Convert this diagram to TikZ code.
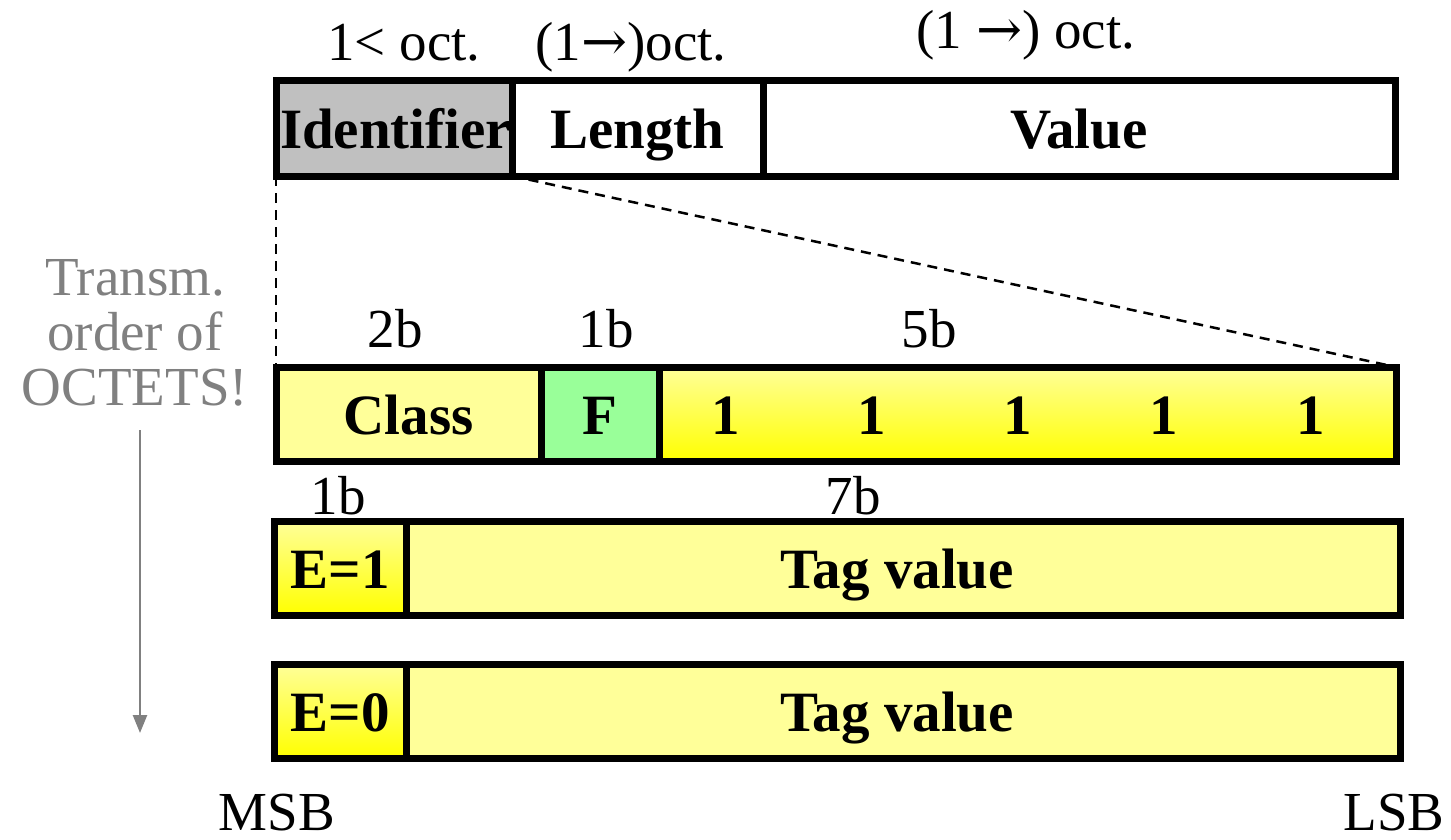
\documentclass[tikz,border=0pt]{standalone}
\usepackage{fontspec}
\setmainfont{Liberation Serif}
\newfontfamily\arrfont{DejaVu Serif}
\usetikzlibrary{arrows.meta}
\definecolor{lightyel}{HTML}{FFFF99}
\definecolor{lightgrn}{HTML}{99FF99}
\definecolor{idgray}{HTML}{C0C0C0}
\definecolor{txtgray}{HTML}{808080}
\newcommand{\rarr}{{\arrfont →}}
\begin{document}
\begin{tikzpicture}[x=1pt,y=-1pt,
  box/.style={draw=black, line width=7pt, inner sep=0pt, outer sep=0pt,
    font=\bfseries\fontsize{57}{57}\selectfont, text height=40pt, text depth=0pt},
  boxtext/.style={inner sep=0pt, outer sep=0pt,
    font=\bfseries\fontsize{57}{57}\selectfont, text height=40pt, text depth=0pt},
  lab/.style={inner sep=0pt, outer sep=0pt, font=\fontsize{55}{55}\selectfont},
  grad/.style={top color=lightyel, bottom color=yellow},
  dashline/.style={line width=2.5pt, dash pattern=on 10pt off 7pt},
  orderarrow/.style={draw=txtgray, line width=2.5pt, -{Triangle[length=18pt,width=14pt]}, fill=txtgray}
]
\useasboundingbox (0,0) rectangle (1451,839);

% row 1: TLV
\node[box, fill=idgray, minimum width=236pt, minimum height=96pt] (id) at (394,128) {};
\node[boxtext, anchor=west] (idtxt) at (280,128) {Identifier};
\node[box, fill=white, minimum width=251pt, minimum height=96pt] (len) at (637.5,128) {Length};
\node[box, fill=white, minimum width=632pt, minimum height=96pt] (val) at (1079,128) {Value};

\node[lab, anchor=base] (o1) at (404,60) {1< oct.};
\node[lab, anchor=base] (o2) at (631,60) {(1\rarr)oct.};
\node[lab, anchor=base] (o3) at (1026,48) {(1 \rarr) oct.};

% row 2: identifier octet
\node[box, fill=lightyel, minimum width=265pt, minimum height=94pt] (cls) at (408.5,414) {Class};
\node[box, fill=lightgrn, minimum width=118pt, minimum height=94pt] (fb) at (600,414) {F};
\node[box, grad, minimum width=737pt, minimum height=94pt] (bits) at (1027.5,414) {};
\node[boxtext] (b1) at (726,414) {1};
\node[boxtext] (b2) at (872,414) {1};
\node[boxtext] (b3) at (1018,414) {1};
\node[boxtext] (b4) at (1164,414) {1};
\node[boxtext] (b5) at (1311,414) {1};

\node[lab, anchor=base] (l2b) at (395,347) {2b};
\node[lab, anchor=base] (l1b) at (606,347) {1b};
\node[lab, anchor=base] (l5b) at (929,347) {5b};

% rows 3 and 4: subsequent octets
\node[box, grad, minimum width=132pt, minimum height=94pt] (e1) at (340,568) {E=1};
\node[box, fill=lightyel, minimum width=994pt, minimum height=94pt] (tag1) at (903,568) {};
\node[boxtext] (tag1txt) at (897,568) {Tag value};
\node[box, grad, minimum width=132pt, minimum height=94pt] (e0) at (340,711) {E=0};
\node[box, fill=lightyel, minimum width=994pt, minimum height=94pt] (tag0) at (903,711) {};
\node[boxtext] (tag0txt) at (897,711) {Tag value};

\node[lab, anchor=base] (m1b) at (338,514) {1b};
\node[lab, anchor=base] (m7b) at (853,514) {7b};

\node[lab, anchor=base] (msb) at (277,830) {MSB};
\node[lab, anchor=base] (lsb) at (1394,830) {LSB};

% zoom lines
\draw[dashline] (id.south west) -- (cls.north west);
\draw[dashline] (id.south east) -- (bits.north east);

% transmission order
\node[lab, text=txtgray, align=center, anchor=north] (order) at (135,259)
  {Transm.\\order of\\OCTETS!};
\coordinate (as) at (140,430);
\coordinate (ae) at (140,733);
\draw[orderarrow] (as) -- (ae);
\end{tikzpicture}
\end{document}
